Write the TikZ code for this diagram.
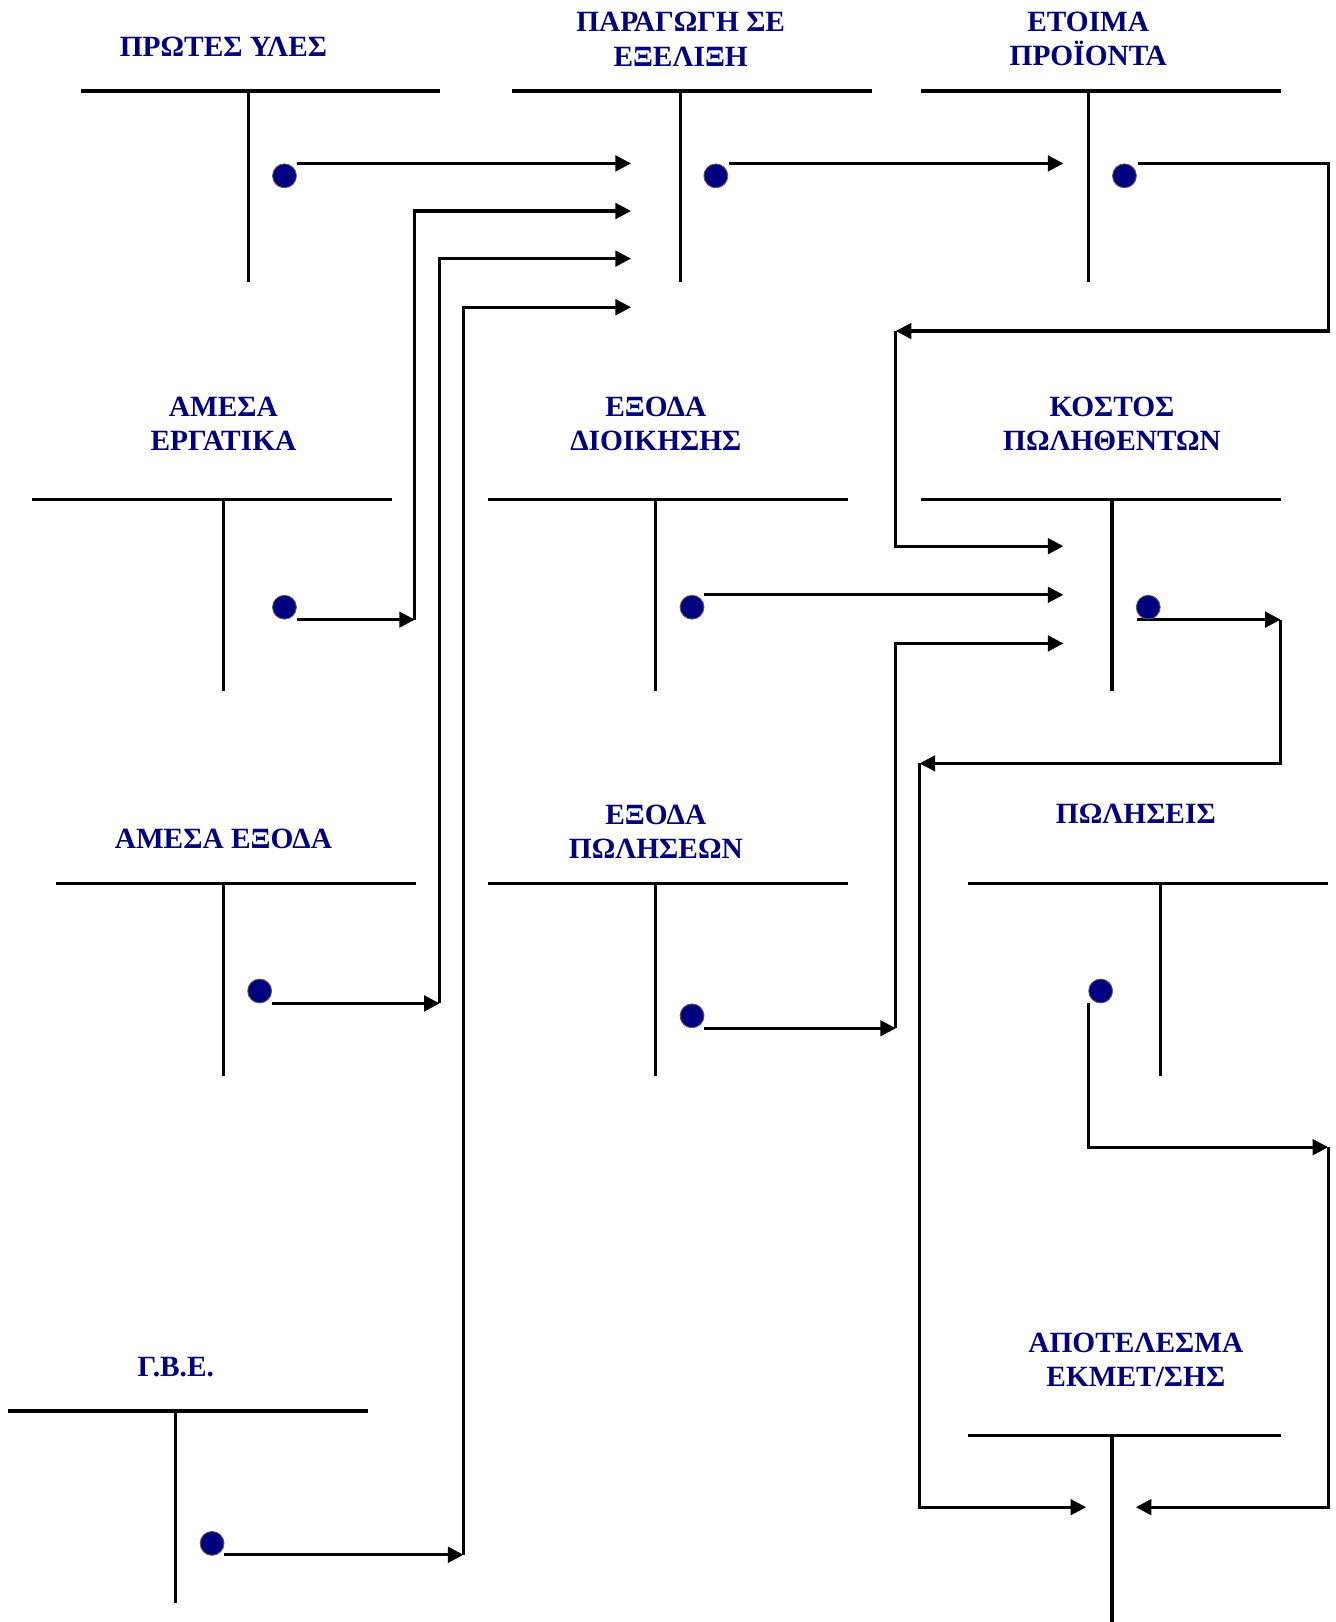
\documentclass[tikz,border=0pt]{standalone}
\usepackage{fontspec}
\setmainfont{Liberation Serif}
\usetikzlibrary{arrows.meta}
\definecolor{navy}{HTML}{000080}
\begin{document}
\begin{tikzpicture}[x=1pt,y=-1pt,
  ln/.style={line width=3pt},
  arr/.style={ln,-{Triangle[length=15pt,width=15pt]}},
  dot/.style={circle,fill=navy,draw=black!65,line width=0.9pt,minimum size=23pt,inner sep=0pt},
  lbl/.style={font=\fontsize{28.4}{33}\selectfont\bfseries,text=navy,align=center,inner sep=0pt}]
\useasboundingbox (0,0) rectangle (1291,1568);
\fill[white] (0,0) rectangle (1291,1568);
% labels
\node[lbl] (ru) at (216,45) {ΠΡΩΤΕΣ ΥΛΕΣ};
\node[lbl] (pe) at (658,38) {ΠΑΡΑΓΩΓΗ ΣΕ\\ΕΞΕΛΙΞΗ};
\node[lbl] (fp) at (1052,38) {ΕΤΟΙΜΑ\\ΠΡΟΪΟΝΤΑ};
\node[lbl] (dl) at (216,410) {ΑΜΕΣΑ\\ΕΡΓΑΤΙΚΑ};
\node[lbl] (ae) at (634,410) {ΕΞΟΔΑ\\ΔΙΟΙΚΗΣΗΣ};
\node[lbl] (cs) at (1075,410) {ΚΟΣΤΟΣ\\ΠΩΛΗΘΕΝΤΩΝ};
\node[lbl] (de) at (216,811) {ΑΜΕΣΑ ΕΞΟΔΑ};
\node[lbl] (se) at (634,804) {ΕΞΟΔΑ\\ΠΩΛΗΣΕΩΝ};
\node[lbl] (sa) at (1098,787) {ΠΩΛΗΣΕΙΣ};
\node[lbl] (ov) at (170,1322) {Γ.Β.Ε.};
\node[lbl] (pl) at (1098,1315) {ΑΠΟΤΕΛΕΣΜΑ\\ΕΚΜΕΤ/ΣΗΣ};
% T accounts
\draw[ln] (78,88) -- (425,88);   \draw[ln] (240,88) -- (240,273);
\draw[ln] (495,88) -- (843,88);  \draw[ln] (658,88) -- (658,273);
\draw[ln] (890,88) -- (1238,88); \draw[ln] (1052,88) -- (1052,273);
\draw[ln] (31,483) -- (379,483); \draw[ln] (216,483) -- (216,668);
\draw[ln] (472,483) -- (820,483); \draw[ln] (634,483) -- (634,668);
\draw[ln] (890,483) -- (1238,483); \draw[ln] (1075,483) -- (1075,668);
\draw[ln] (54,854) -- (402,854); \draw[ln] (216,854) -- (216,1040);
\draw[ln] (472,854) -- (820,854); \draw[ln] (634,854) -- (634,1040);
\draw[ln] (936,854) -- (1284,854); \draw[ln] (1122,854) -- (1122,1040);
\draw[ln] (8,1364) -- (356,1364); \draw[ln] (170,1364) -- (170,1550);
\draw[ln] (936,1388) -- (1238,1388); \draw[ln] (1075,1388) -- (1075,1568);
% coordinates
\coordinate (s1) at (287,158);  \coordinate (t1) at (610,158);
\coordinate (s2) at (705,158);  \coordinate (t2) at (1028,158);
\coordinate (s3) at (1100,158); \coordinate (c3a) at (1284,158); \coordinate (c3b) at (1284,320);
\coordinate (c3c) at (866,320); \coordinate (c3d) at (866,528); \coordinate (t3) at (1028,528);
\coordinate (s4) at (287,599);  \coordinate (c4a) at (401,599); \coordinate (c4b) at (401,204); \coordinate (t4) at (610,204);
\coordinate (s5) at (263,970);  \coordinate (c5a) at (425,970); \coordinate (c5b) at (425,250); \coordinate (t5) at (610,250);
\coordinate (s6) at (217,1503); \coordinate (c6a) at (448,1503); \coordinate (c6b) at (448,297); \coordinate (t6) at (610,297);
\coordinate (s7) at (681,575);  \coordinate (t7) at (1028,575);
\coordinate (s8) at (1099,599); \coordinate (c8a) at (1238,599); \coordinate (c8b) at (1238,738);
\coordinate (c8c) at (889,738); \coordinate (c8d) at (889,1457); \coordinate (t8) at (1050,1457);
\coordinate (s9) at (681,994);  \coordinate (c9a) at (866,994); \coordinate (c9b) at (866,622); \coordinate (t9) at (1028,622);
\coordinate (s10) at (1052,970); \coordinate (c10a) at (1052,1109); \coordinate (c10b) at (1284,1109);
\coordinate (c10c) at (1284,1457); \coordinate (t10) at (1098,1457);
% connectors
\draw[arr] (s1) -- (t1);
\draw[arr] (s2) -- (t2);
\draw[arr] (s3) -- (c3a) -- (c3b) -- (c3c);
\draw[arr] (c3c) -- (c3d) -- (t3);
\draw[arr] (s4) -- (c4a);
\draw[arr] (c4a) -- (c4b) -- (t4);
\draw[arr] (s5) -- (c5a);
\draw[arr] (c5a) -- (c5b) -- (t5);
\draw[arr] (s6) -- (c6a);
\draw[arr] (c6a) -- (c6b) -- (t6);
\draw[arr] (s7) -- (t7);
\draw[arr] (s8) -- (c8a);
\draw[arr] (c8a) -- (c8b) -- (c8c);
\draw[arr] (c8c) -- (c8d) -- (t8);
\draw[arr] (s9) -- (c9a);
\draw[arr] (c9a) -- (c9b) -- (t9);
\draw[arr] (s10) -- (c10a) -- (c10b);
\draw[arr] (c10b) -- (c10c) -- (t10);
% dots
\node[dot] (d1) at (275,170) {};
\node[dot] (d2) at (692,170) {};
\node[dot] (d3) at (1087,170) {};
\node[dot] (d4) at (275,587) {};
\node[dot] (d5) at (251,958) {};
\node[dot] (d6) at (205,1492) {};
\node[dot] (d7) at (669,587) {};
\node[dot] (d8) at (1110,587) {};
\node[dot] (d9) at (669,982) {};
\node[dot] (d10) at (1064,958) {};
\end{tikzpicture}
\end{document}
